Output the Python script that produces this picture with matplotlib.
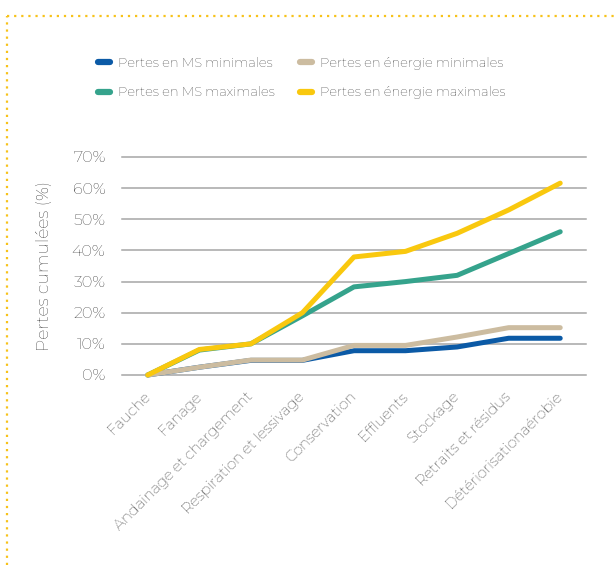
import matplotlib.pyplot as plt
from matplotlib.lines import Line2D

# categories (étapes)
etapes = ["Fauche", "Fanage", "Andainage et chargement", "Respiration et lessivage",
          "Conservation", "Effluents", "Stockage", "Retraits et résidus",
          "Détériorisationaérobie"]

# pertes cumulées (fraction)
ms_min = [0.0, 0.025, 0.047, 0.047, 0.078, 0.078, 0.09, 0.118, 0.118]
ms_max = [0.0, 0.08, 0.10, 0.19, 0.283, 0.30, 0.32, 0.39, 0.46]
en_min = [0.0, 0.025, 0.048, 0.048, 0.095, 0.095, 0.122, 0.152, 0.152]
en_max = [0.0, 0.082, 0.10, 0.20, 0.379, 0.397, 0.455, 0.53, 0.616]

series = [
    ("Pertes en MS minimales", ms_min, "#0b5aa6"),
    ("Pertes en MS maximales", ms_max, "#35a38c"),
    ("Pertes en énergie minimales", en_min, "#ccbca0"),
    ("Pertes en énergie maximales", en_max, "#f9c80e"),
]
yticks = [0, 0.1, 0.2, 0.3, 0.4, 0.5, 0.6, 0.7]
ytick_labels = ["0%", "10%", "20%", "30%", "40%", "50%", "60%", "70%"]

plt.rcParams['font.family'] = ['Montserrat', 'Open Sans', 'DejaVu Sans']
txt = "#111111"

fig = plt.figure(figsize=(6.14, 5.65), dpi=100)
ax = fig.add_axes([122 / 614, 1 - 375 / 565, 464 / 614, 218 / 565])

x = list(range(len(etapes)))
for lab, vals, col in series:
    ax.plot(x, vals, color=col, lw=3.6, solid_capstyle='round',
            solid_joinstyle='round', clip_on=False, label=lab, zorder=3)

ax.set_xlim(-0.5, len(etapes) - 0.5)
ax.set_ylim(0, 0.7)
ax.set_yticks(yticks)
ax.set_yticklabels(ytick_labels, fontsize=11.5, color=txt)
for yv in yticks:
    ax.axhline(yv, color="#a6a6a6", lw=1.1, zorder=1, clip_on=False)

ax.set_xticks(x)
ax.set_xticklabels(etapes, rotation=45, ha='right', va='center',
                   rotation_mode='anchor', fontsize=10.5, color=txt)
ax.tick_params(axis='x', length=0, pad=14)
ax.tick_params(axis='y', length=0, pad=12)
for s in ax.spines.values():
    s.set_visible(False)

ax.set_ylabel("Pertes cumulées (%)", fontsize=12.4, color=txt)
ax.yaxis.set_label_coords(-0.151, 0.5)

handles = [Line2D([], [], color=c, lw=4.5, solid_capstyle='round') for _, _, c in series]
fig.legend(handles, [s[0] for s in series], ncol=2, frameon=False,
           loc='upper left', bbox_to_anchor=(98 / 614, 1 - 57 / 565),
           borderaxespad=0, borderpad=0, fontsize=9.4, labelcolor=txt,
           handlelength=0.95, handletextpad=0.6, columnspacing=1.9,
           labelspacing=1.25)

# bordure pointillée jaune
dot = dict(color="#f7c21a", lw=1.6, linestyle=(0, (1, 2.2)), transform=fig.transFigure)
fig.add_artist(Line2D([7 / 614, 1], [1 - 16 / 565, 1 - 16 / 565], **dot))
fig.add_artist(Line2D([7 / 614, 7 / 614], [0, 1 - 16 / 565], **dot))

fig.savefig("out.png", dpi=100)
